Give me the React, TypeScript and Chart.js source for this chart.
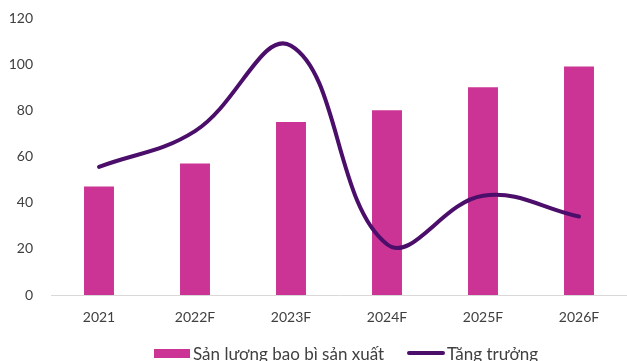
import { useEffect, useRef } from "react";
import { Chart, registerables } from "chart.js";

Chart.register(...registerables);

// Chart data
const categories = ["2021", "2022F", "2023F", "2024F", "2025F", "2026F"];
const productionValues = [47, 57, 75, 80, 90, 99];
const growthValues = [55.5, 71, 108, 22, 43, 34];
const yTickValues = [0, 20, 40, 60, 80, 100, 120];

const barLabel = "Sản lượng bao bì sản xuất";
const lineLabel = "Tăng trưởng";

const BAR_COLOR = "#CB3494";
const LINE_COLOR = "#4B0E6B";
const TEXT_COLOR = "#404040";
const FONT = "Lato, 'Open Sans', sans-serif";

export default function App() {
  const canvasRef = useRef<HTMLCanvasElement | null>(null);

  useEffect(() => {
    document.body.style.margin = "0";
    const canvas = canvasRef.current;
    if (!canvas) return;

    const chart = new Chart(canvas, {
      type: "bar",
      data: {
        labels: categories,
        datasets: [
          {
            type: "line",
            label: lineLabel,
            data: growthValues,
            borderColor: LINE_COLOR,
            backgroundColor: LINE_COLOR,
            borderWidth: 4,
            borderCapStyle: "round",
            tension: 0.4,
            pointRadius: 0,
            pointHoverRadius: 0,
            fill: false,
          },
          {
            type: "bar",
            label: barLabel,
            data: productionValues,
            backgroundColor: BAR_COLOR,
            borderWidth: 0,
            categoryPercentage: 1,
            barPercentage: 0.312,
          },
        ],
      } as any,
      options: {
        animation: false,
        responsive: false,
        maintainAspectRatio: false,
        layout: { padding: { top: 18, right: 0, bottom: 36, left: 0 } },
        plugins: {
          legend: { display: false },
          tooltip: { enabled: false },
        },
        scales: {
          x: {
            grid: { display: false, drawTicks: false },
            border: { display: true, color: "#D9D9D9", width: 1 },
            ticks: {
              color: TEXT_COLOR,
              font: { family: FONT, size: 14 },
              padding: 14,
              maxRotation: 0,
            },
            afterFit: (scale: any) => {
              scale.height = 30;
            },
          },
          y: {
            min: 0,
            max: 120,
            grid: { display: false, drawTicks: false },
            border: { display: false },
            afterBuildTicks: (scale: any) => {
              scale.ticks = yTickValues.map((v) => ({ value: v }));
            },
            ticks: {
              color: TEXT_COLOR,
              font: { family: FONT, size: 14 },
              padding: 18,
            },
            afterFit: (scale: any) => {
              // fixed axis width; top/bottom come from the layout padding
              scale.width = 51;
              scale.paddingTop = 0;
              scale.paddingBottom = 0;
            },
          },
        },
      } as any,
    });

    return () => chart.destroy();
  }, []);

  const legendText: React.CSSProperties = {
    position: "absolute",
    fontFamily: FONT,
    fontSize: 17,
    lineHeight: "17px",
    color: TEXT_COLOR,
    whiteSpace: "nowrap",
    top: 345,
  };

  return (
    <div style={{ position: "relative", width: 627, height: 361, overflow: "hidden", background: "#fff" }}>
      <canvas ref={canvasRef} width={627} height={361} style={{ display: "block" }} />
      <div style={{ position: "absolute", left: 154, top: 349, width: 36, height: 9, background: BAR_COLOR }} />
      <div style={{ ...legendText, left: 193 }}>{barLabel}</div>
      <div
        style={{
          position: "absolute",
          left: 407,
          top: 351,
          width: 38,
          height: 4,
          borderRadius: 2,
          background: LINE_COLOR,
        }}
      />
      <div style={{ ...legendText, left: 447 }}>{lineLabel}</div>
    </div>
  );
}
